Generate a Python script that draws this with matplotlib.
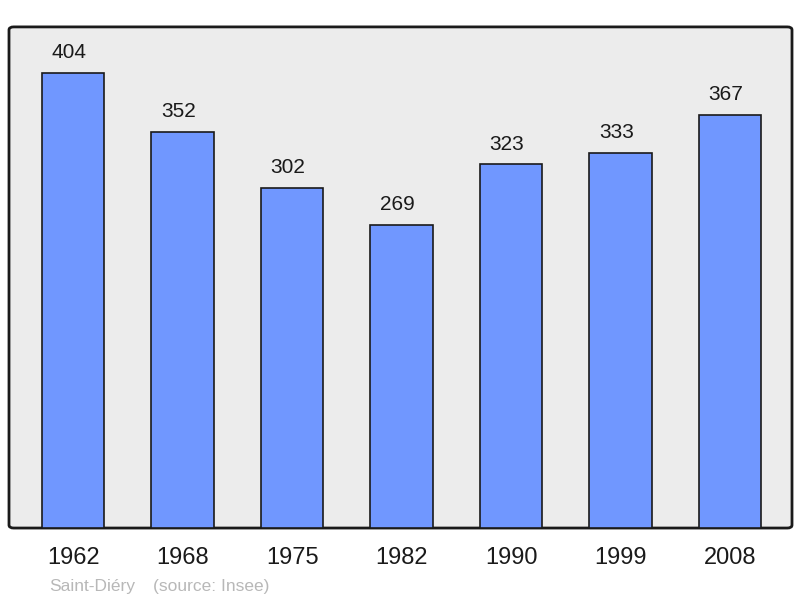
import matplotlib.pyplot as plt
from matplotlib.patches import FancyBboxPatch

plt.rcParams['font.family'] = ['Liberation Sans', 'DejaVu Sans']

# Population de Saint-Diéry (source: Insee)
annees = ['1962', '1968', '1975', '1982', '1990', '1999', '2008']
population = [404, 352, 302, 269, 323, 333, 367]

fig = plt.figure(figsize=(8, 5.98), dpi=100)
ax = fig.add_axes([0.01125, 0.117, 0.97875, 0.838])

ax.set_facecolor('none')
ax.set_xlim(-0.585, 6.565)
ax.set_ylim(0, 445)

# fond arrondi
fond = FancyBboxPatch((0, 0), 1, 1, boxstyle='round,pad=0,rounding_size=0.006',
                      transform=ax.transAxes, facecolor='#ececec',
                      edgecolor='#1a1a1a', linewidth=2, zorder=0, clip_on=False)
ax.add_patch(fond)

x = range(len(annees))
bars = ax.bar(x, population, width=0.57, color='#7097ff', edgecolor='#1a1a1a',
              linewidth=1.2, zorder=2)

for xi, val in zip(x, population):
    ax.annotate(str(val), (xi, val), xytext=(-3, 14.5), textcoords='offset points',
                ha='center', va='center', fontsize=15, color='#1a1a1a')

ax.set_xticks(list(x))
ax.set_xticklabels(annees, fontsize=17, color='#1a1a1a')
ax.tick_params(axis='x', length=0, pad=14)
ax.set_yticks([])
for s in ax.spines.values():
    s.set_visible(False)

fig.text(49 / 800, 1 - 586 / 598, 'Saint-Diéry', fontsize=12.5, color='#b8b8b8',
         ha='left', va='center')
fig.text(153 / 800, 1 - 586 / 598, '(source: Insee)', fontsize=12.5, color='#b8b8b8',
         ha='left', va='center')

fig.savefig('out.png', dpi=100, facecolor='white')
